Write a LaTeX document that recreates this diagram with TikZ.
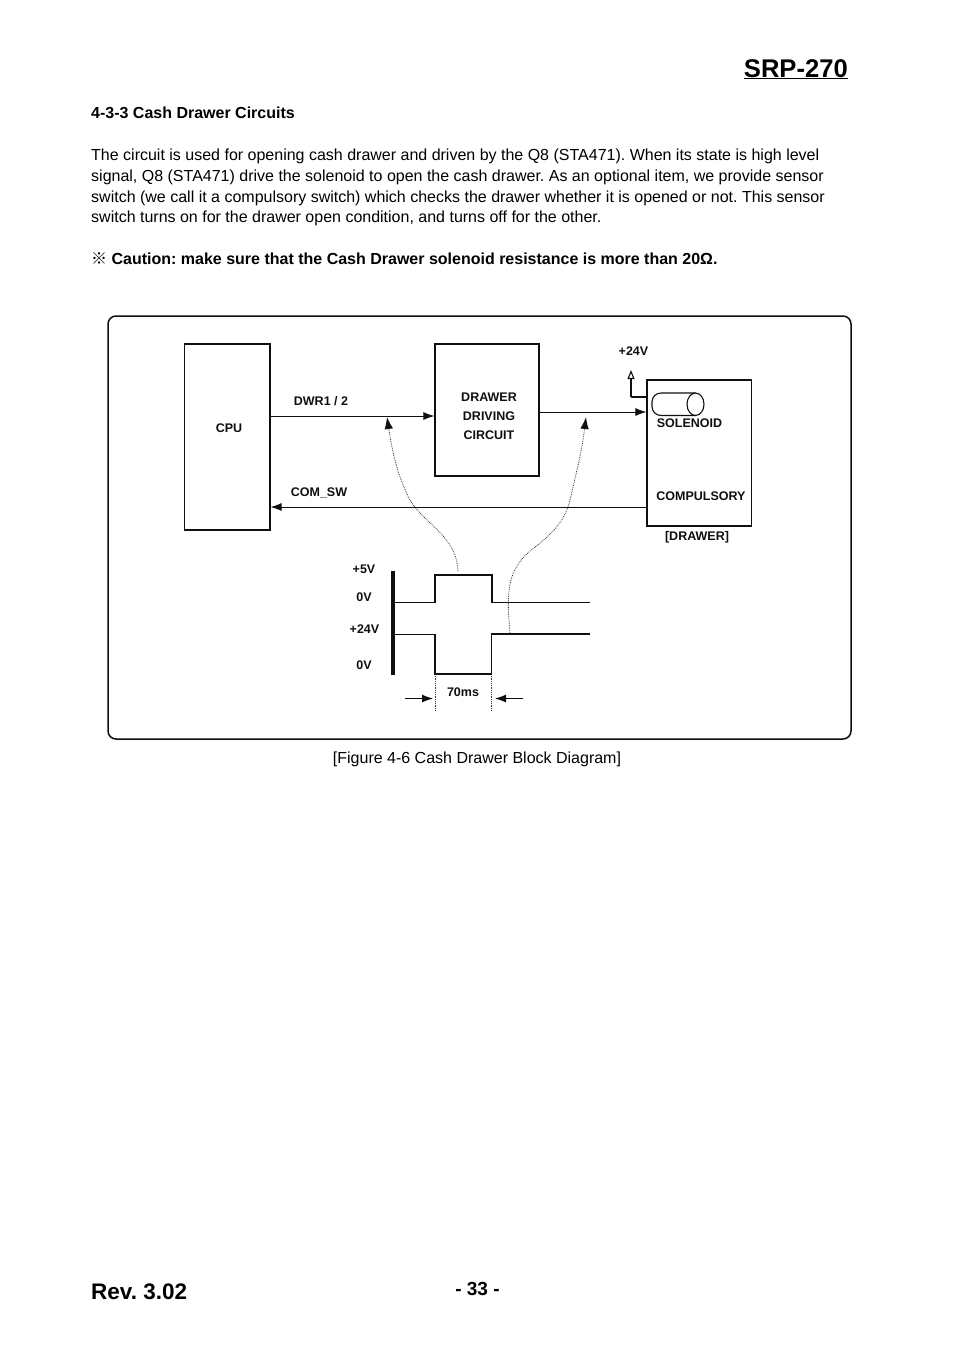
\documentclass[tikz,border=0pt]{standalone}
\usepackage{fontspec}
\setmainfont{Liberation Sans}
\newfontfamily\cjk{Noto Sans CJK KR}
\usepackage{xcolor}
\usetikzlibrary{arrows.meta}
\definecolor{inkblack}{RGB}{15,15,15}
\definecolor{traceg}{RGB}{50,50,50}
\frenchspacing

\begin{document}
\begin{tikzpicture}[
    x=1pt, y=-1pt,
    bodyline/.style={anchor=base west, inner sep=0pt, font=\fontsize{16}{19}\selectfont},
    boldline/.style={anchor=base west, inner sep=0pt, font=\fontsize{16}{19}\selectfont\bfseries},
    block/.style={draw=inkblack, line width=1.1pt, inner sep=0pt},
    tag/.style={inner sep=0pt, text=inkblack, font=\fontsize{12.5}{14}\selectfont\bfseries},
    sig/.style={draw=inkblack, line width=1pt, -{Latex[length=11pt,width=8pt]}},
    wave/.style={draw=inkblack, line width=1.3pt},
    trace/.style={draw=traceg, line width=0.8pt, densely dotted}
]
\useasboundingbox (0,0) rectangle (954,1350);

\node[anchor=base east, inner sep=0pt, font=\fontsize{25.6}{30}\selectfont\bfseries] (title) at (848,77) {\underline{SRP-270}};
\node[boldline] (heading) at (91,118) {4-3-3 Cash Drawer Circuits};

\node[bodyline] (line1) at (91,160) {The circuit is used for opening cash drawer and driven by the Q8 (STA471). When its state is high level};
\node[bodyline] (line2) at (91,181) {signal, Q8 (STA471) drive the solenoid to open the cash drawer. As an optional item, we provide sensor};
\node[bodyline] (line3) at (91,202) {switch (we call it a compulsory switch) which checks the drawer whether it is opened or not. This sensor};
\node[bodyline] (line4) at (91,222) {switch turns on for the drawer open condition, and turns off for the other.};
\node[boldline] (caution) at (91,264) {{\cjk\bfseries ※} Caution: make sure that the Cash Drawer solenoid resistance is more than 20Ω.};

\draw[draw=inkblack, line width=1.5pt, rounded corners=8pt] (108,316) rectangle (851,739);

\node[block, minimum width=85.5pt, minimum height=186pt] (cpu) at (227.25,437) {};
\node[block, minimum width=104pt, minimum height=132pt] (driver) at (487,410) {};
\node[block, minimum width=104.5pt, minimum height=146pt] (drawer) at (699.25,453) {};

\node[tag] (cpulabel) at (229,428.5) {CPU};
\node[tag] (drv1) at (489,397.5) {DRAWER};
\node[tag] (drv2) at (489,416.5) {DRIVING};
\node[tag] (drv3) at (489,435.5) {CIRCUIT};
\node[tag] (dwrlabel) at (321,401.5) {DWR1 / 2};
\node[tag] (comlabel) at (319,492.5) {COM\_SW};
\node[tag] (vcc) at (633.5,351.5) {+24V};
\node[tag] (sollabel) at (689.5,423.5) {SOLENOID};
\node[tag] (complabel) at (701,496.5) {COMPULSORY};
\node[tag] (drawerlabel) at (697,537.5) {[DRAWER]};

\coordinate (dwr) at (350,416);
\coordinate (sol) at (600,412);
\coordinate (com) at (450,507);
\draw[sig] (cpu.east |- dwr) -- (driver.west |- dwr);
\draw[sig] (driver.east |- sol) -- (drawer.west |- sol);
\draw[sig] (drawer.west |- com) -- (cpu.east |- com);

\coordinate (feed) at (647,397);
\coordinate (feedtop) at (631,370);
\draw[draw=inkblack, line width=1.9pt, rounded corners=1pt, -{Triangle[open,length=9pt,width=7pt,line width=1.1pt]}] (feed) -| (feedtop);

% solenoid
\draw[draw=inkblack, line width=1.1pt, rounded corners=9pt] (695.5,393) -- (652,393) -- (652,415.5) -- (695.5,415.5);
\draw[draw=inkblack, line width=1.1pt] (695.5,404.25) ellipse (8.5 and 11.25);

\node[tag] (hi5) at (364,569.5) {+5V};
\node[tag] (lo5) at (364,597.5) {0V};
\node[tag] (hi24) at (364.5,629.5) {+24V};
\node[tag] (lo24) at (364,665.5) {0V};
\node[tag] (width) at (463,692.5) {70ms};

\draw[draw=inkblack, line width=3.2pt] (393,571) -- (393,675);
\draw[wave] (393,602.5) -- (435,602.5) -- (435,575) -- (492,575) -- (492,602.5) -- (590,602.5);
\draw[wave] (393,634.5) -- (435,634.5) -- (435,674) -- (491.5,674) -- (491.5,634) -- (590,634);

\coordinate (markl) at (435,711);
\coordinate (markr) at (491.5,711);
\draw[trace] (435,674) -- (markl);
\draw[trace] (491.5,674) -- (markr);
\coordinate (arrl) at (405,698.5);
\coordinate (arrr) at (523,698.5);
\draw[sig] (arrl) -- (433,698.5);
\draw[sig] (arrr) -- (495,698.5);

\coordinate (pulsetop) at (458,571);
\coordinate (pulsedrop) at (510,633);
\draw[trace, -{Latex[length=12pt,width=8.5pt,color=inkblack,fill=inkblack]}] (pulsetop) .. controls (456,535) and (425,525) .. (410,500) .. controls (397,475) and (392,450) .. (387,417);
\draw[trace, -{Latex[length=12pt,width=8.5pt,color=inkblack,fill=inkblack]}] (pulsedrop) .. controls (506,590) and (508,570) .. (530,551) .. controls (555,532) and (565,520) .. (570,500) .. controls (577,470) and (582,450) .. (586,417);

\node[anchor=base, inner sep=0pt, font=\fontsize{16}{19}\selectfont] (caption) at (477,763) {[Figure 4-6 Cash Drawer Block Diagram]};

\node[boldline, font=\fontsize{22.5}{28}\selectfont\bfseries] (rev) at (91,1299) {Rev. 3.02};
\node[anchor=base, inner sep=0pt, font=\fontsize{19}{20}\selectfont\bfseries] (page) at (477.5,1295) {- 33 -};

\end{tikzpicture}
\end{document}
